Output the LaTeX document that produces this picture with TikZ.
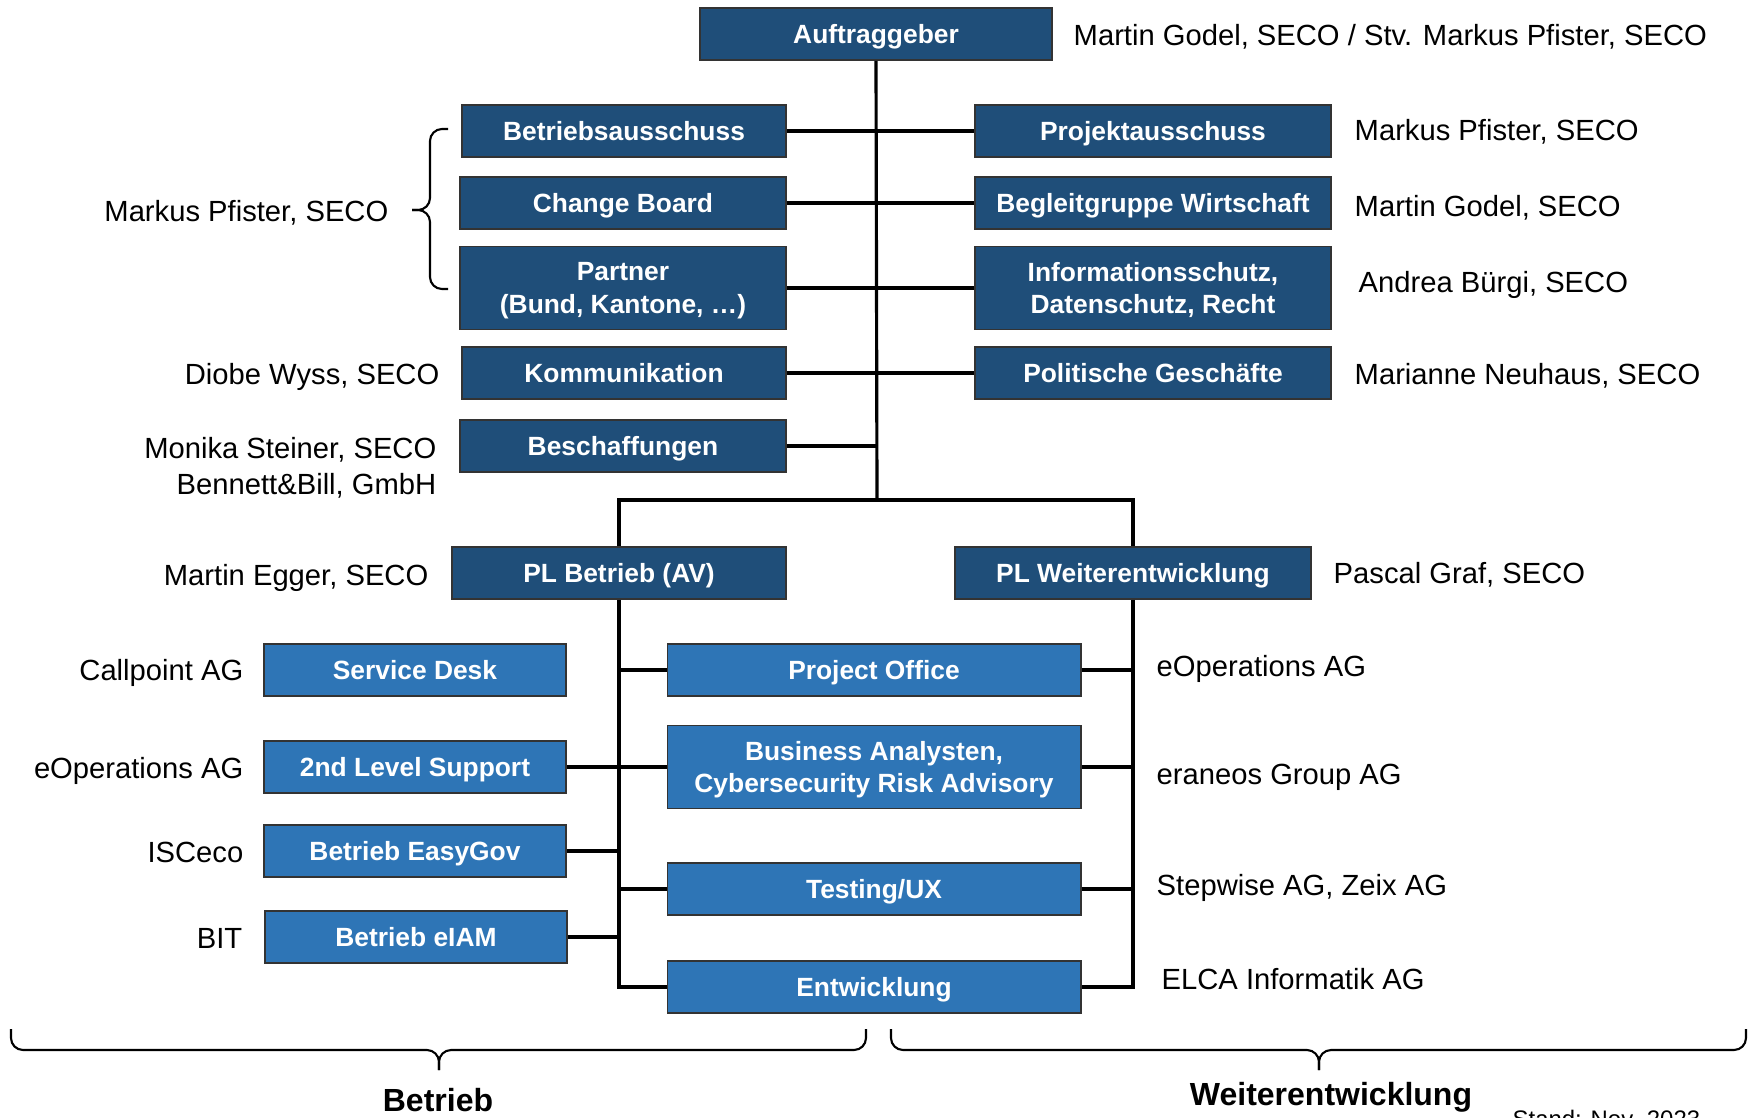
\documentclass[tikz,border=0pt]{standalone}
\usepackage{fontspec}
\setmainfont{Liberation Sans}
\definecolor{darkblue}{RGB}{31,78,121}
\definecolor{midblue}{RGB}{46,117,182}

\begin{document}
\begin{tikzpicture}[x=0.01cm,y=-0.01cm,
        box/.style={draw=black!80,line width=0.5pt,fill=darkblue,text=white,inner sep=0pt,align=center,
            font=\bfseries\fontsize{7.5}{9.2}\selectfont,minimum height=0.52cm,text depth=0pt},
        boxlow/.style={box,fill=midblue},
        tall/.style={minimum height=0.83cm},
        lbl/.style={inner sep=0pt,align=right,text depth=0pt,font=\fontsize{8.3}{10.3}\selectfont},
        conn/.style={line width=0.9pt},
        brc/.style={line width=0.6pt,rounded corners=0.12cm}]
        \useasboundingbox (0,0) rectangle (1757,1117);

        % Auftraggeber
        \node[box,minimum width=3.52cm] (auf) at (876,34) {Auftraggeber};
        \node[lbl,anchor=west] (aufname) at (1073,35) {Martin Godel, SECO / Stv. Markus Pfister, SECO};

        % left column
        \node[box,minimum width=3.24cm] (bau) at (624,131) {Betriebsausschuss};
        \node[box,minimum width=3.26cm] (cb) at (623,203) {Change Board};
        \node[box,tall,minimum width=3.26cm] (part) at (623,288) {Partner\\(Bund, Kantone, …)};
        \node[box,minimum width=3.24cm] (komm) at (624,373) {Kommunikation};
        \node[box,minimum width=3.26cm] (besch) at (623,446) {Beschaffungen};
        \node[lbl,anchor=east] (bauname) at (389,211) {Markus Pfister, SECO};
        \node[lbl,anchor=east] (kommname) at (440,374) {Diobe Wyss, SECO};
        \node[lbl,anchor=east] (beschname) at (437,466) {Monika Steiner, SECO\\Bennett\&Bill, GmbH};

        % right column
        \node[box,minimum width=3.56cm] (pa) at (1153,131) {Projektausschuss};
        \node[box,minimum width=3.56cm] (bgw) at (1153,203) {Begleitgruppe Wirtschaft};
        \node[box,tall,minimum width=3.56cm] (info) at (1153,288) {Informationsschutz,\\Datenschutz, Recht};
        \node[box,minimum width=3.56cm] (polit) at (1153,373) {Politische Geschäfte};
        \node[lbl,anchor=west] (paname) at (1354,130) {Markus Pfister, SECO};
        \node[lbl,anchor=west] (bgwname) at (1354,206) {Martin Godel, SECO};
        \node[lbl,anchor=west] (infoname) at (1358,282) {Andrea Bürgi, SECO};
        \node[lbl,anchor=west] (politname) at (1354,374) {Marianne Neuhaus, SECO};

        % Projektleitung
        \node[box,minimum width=3.34cm] (plb) at (619,573) {PL Betrieb (AV)};
        \node[box,minimum width=3.56cm] (plw) at (1133,573) {PL Weiterentwicklung};
        \node[lbl,anchor=east] (plbname) at (429,575) {Martin Egger, SECO};
        \node[lbl,anchor=west] (plwname) at (1333,573) {Pascal Graf, SECO};

        % Betrieb
        \node[boxlow,minimum width=3.02cm] (sd) at (415,670) {Service Desk};
        \node[boxlow,minimum width=3.02cm] (l2) at (415,767) {2nd Level Support};
        \node[boxlow,minimum width=3.02cm] (easy) at (415,851) {Betrieb EasyGov};
        \node[boxlow,minimum width=3.02cm] (eiam) at (416,937) {Betrieb eIAM};
        \node[lbl,anchor=east] (sdname) at (244,670) {Callpoint AG};
        \node[lbl,anchor=east] (l2name) at (244,768) {eOperations AG};
        \node[lbl,anchor=east] (easyname) at (244,852) {ISCeco};
        \node[lbl,anchor=east] (eiamname) at (243,938) {BIT};

        % Weiterentwicklung
        \node[boxlow,minimum width=4.13cm] (po) at (874,670) {Project Office};
        \node[boxlow,tall,minimum width=4.13cm] (ba) at (874,767) {Business Analysten,\\Cybersecurity Risk Advisory};
        \node[boxlow,minimum width=4.13cm] (test) at (874,889) {Testing/UX};
        \node[boxlow,minimum width=4.13cm] (entw) at (874,987) {Entwicklung};
        \node[lbl,anchor=west] (poname) at (1156,666) {eOperations AG};
        \node[lbl,anchor=west] (baname) at (1156,774) {eraneos Group AG};
        \node[lbl,anchor=west] (testname) at (1156,885) {Stepwise AG, Zeix AG};
        \node[lbl,anchor=west] (entwname) at (1161,979) {ELCA Informatik AG};

        % lines
        \coordinate (split) at (877,500);
        \draw[conn] (auf.south) -- (split);
        \draw[conn] (bau.east) -- (bau.east -| split);
        \draw[conn] (cb.east) -- (cb.east -| split);
        \draw[conn] (part.east) -- (part.east -| split);
        \draw[conn] (komm.east) -- (komm.east -| split);
        \draw[conn] (besch.east) -- (besch.east -| split);
        \draw[conn] (pa.west) -- (pa.west -| split);
        \draw[conn] (bgw.west) -- (bgw.west -| split);
        \draw[conn] (info.west) -- (info.west -| split);
        \draw[conn] (polit.west) -- (polit.west -| split);
        \draw[conn] (plb.north) |- (split) -| (plw.north);
        \draw[conn] (plb.south) |- (entw.west);
        \draw[conn] (plw.south) |- (entw.east);
        \draw[conn] (po.west) -- (po.west -| plb.south);
        \draw[conn] (l2.east) -- (ba.west);
        \draw[conn] (easy.east) -- (easy.east -| plb.south);
        \draw[conn] (test.west) -- (test.west -| plb.south);
        \draw[conn] (eiam.east) -- (eiam.east -| plb.south);
        \draw[conn] (po.east) -- (po.east -| plw.south);
        \draw[conn] (ba.east) -- (ba.east -| plw.south);
        \draw[conn] (test.east) -- (test.east -| plw.south);

        % braces
        \coordinate (bt) at (448,129);
        \coordinate (bb) at (448,289);
        \coordinate (btip) at (412,210);
        \draw[brc] (bt) -| (430,210) -- (btip);
        \draw[brc] (bb) -| (430,210) -- (btip);
        \coordinate (bl1) at (11,1029);
        \coordinate (bl2) at (866,1029);
        \coordinate (bltip) at (439,1070);
        \draw[brc] (bl1) |- (439,1050) -- (bltip);
        \draw[brc] (bl2) |- (439,1050) -- (bltip);
        \coordinate (br1) at (891,1029);
        \coordinate (br2) at (1746,1029);
        \coordinate (brtip) at (1319,1070);
        \draw[brc] (br1) |- (1319,1050) -- (brtip);
        \draw[brc] (br2) |- (1319,1050) -- (brtip);
        \node[font=\bfseries\fontsize{9.1}{11}\selectfont,inner sep=0pt] (lbet) at (438,1100) {Betrieb};
        \node[font=\bfseries\fontsize{9.1}{11}\selectfont,inner sep=0pt] (lweit) at (1331,1097) {Weiterentwicklung};
        \node[font=\fontsize{6.8}{8}\selectfont,inner sep=0pt,anchor=base west] (stand) at (1512,1127) {Stand: Nov. 2023};
    \end{tikzpicture}
\end{document}
